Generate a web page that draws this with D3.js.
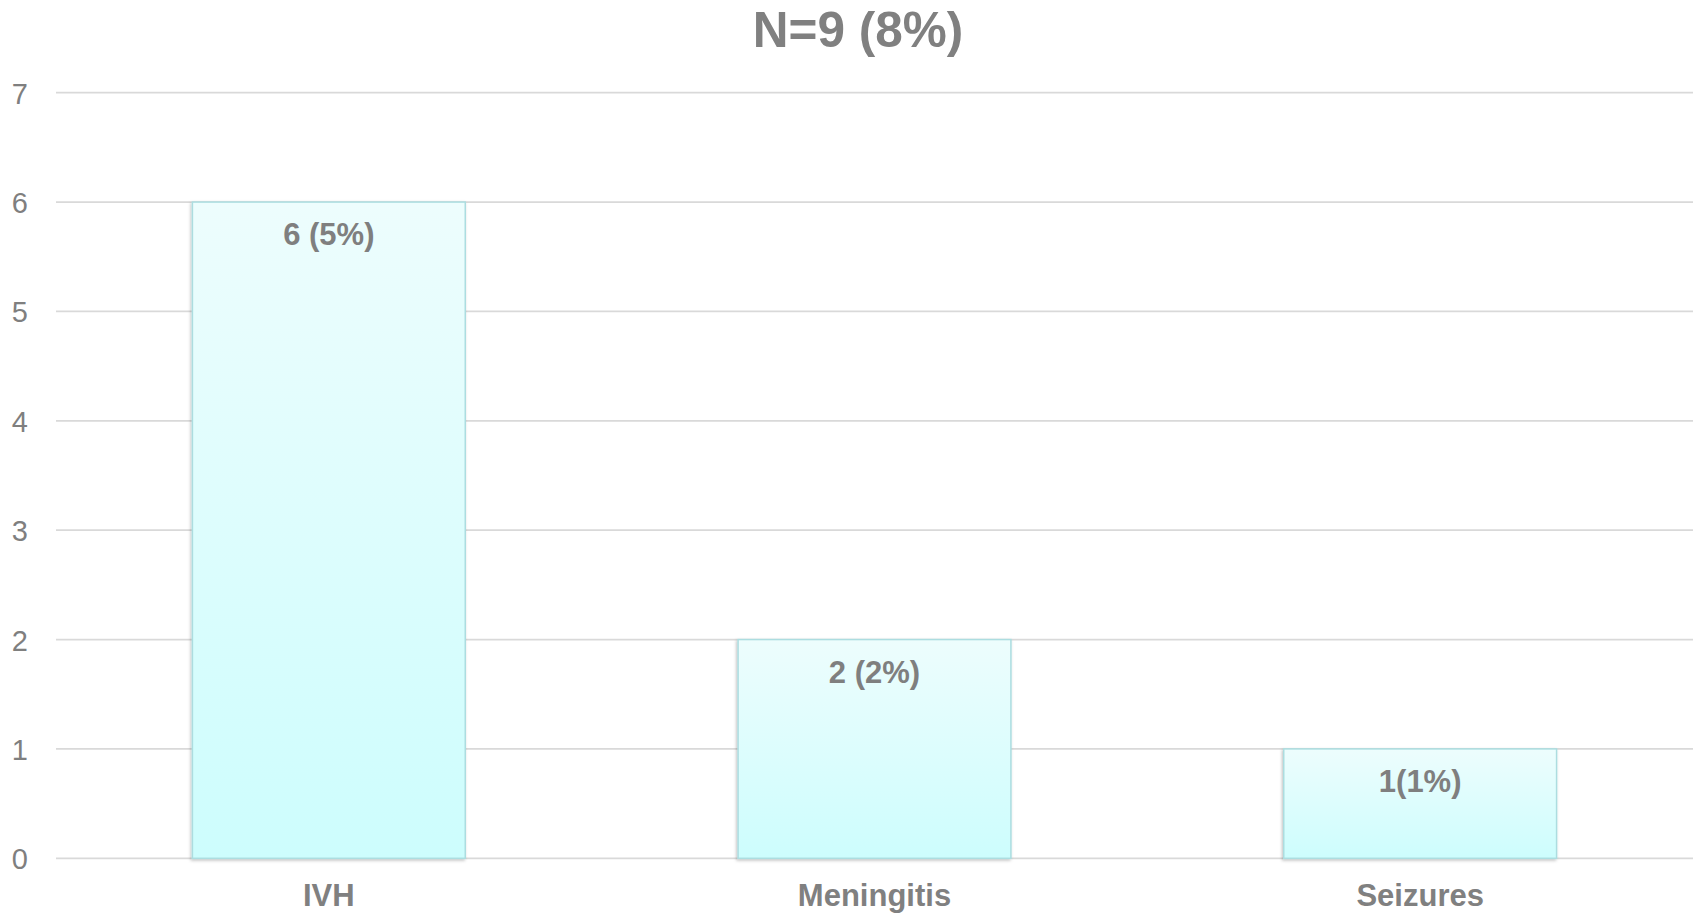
<!DOCTYPE html>
<html>
<head>
<meta charset="utf-8">
<script src="https://cdn.jsdelivr.net/npm/d3@7"></script>
<style>
  html, body { margin: 0; padding: 0; background: #ffffff; }
  svg { display: block; font-family: "Liberation Sans", Arial, sans-serif; }
</style>
</head>
<body>
<svg id="chart" width="1702" height="915"></svg>
<script>
// Chart data
const title = "N=9 (8%)";
const categories = ["IVH", "Meningitis", "Seizures"];
const counts = [6, 2, 1];
const valueLabels = ["6 (5%)", "2 (2%)", "1(1%)"];
const yTicks = [0, 1, 2, 3, 4, 5, 6, 7];

const svg = d3.select("#chart");
const margin = { left: 56, right: 9, top: 92.7, bottom: 56.7 };
const W = 1702, H = 915;

const x = d3.scaleBand()
  .domain(categories)
  .range([margin.left, W - margin.right])
  .paddingInner(0.5)
  .paddingOuter(0.25);

const y = d3.scaleLinear()
  .domain([0, 7])
  .range([H - margin.bottom, margin.top]);

// Bar fill gradient and soft shadow
const defs = svg.append("defs");
const grad = defs.append("linearGradient")
  .attr("id", "barFill").attr("x1", 0).attr("y1", 0).attr("x2", 0).attr("y2", 1);
grad.append("stop").attr("offset", "0%").attr("stop-color", "#edfdfd");
grad.append("stop").attr("offset", "100%").attr("stop-color", "#cdfdfd");

const shadow = defs.append("filter").attr("id", "barShadow")
  .attr("x", "-5%").attr("y", "-5%").attr("width", "110%").attr("height", "110%");
shadow.append("feDropShadow")
  .attr("dx", -1).attr("dy", 1.5).attr("stdDeviation", 1.5)
  .attr("flood-color", "#000").attr("flood-opacity", 0.25);

// Horizontal gridlines
svg.append("g")
  .selectAll("line")
  .data(yTicks)
  .join("line")
  .attr("x1", margin.left)
  .attr("x2", W - margin.right)
  .attr("y1", d => y(d))
  .attr("y2", d => y(d))
  .attr("stroke", "#d9d9d9")
  .attr("stroke-width", 1.8);

// Y axis labels
const yAxis = d3.axisLeft(y).tickValues(yTicks).tickSize(0).tickPadding(0).tickFormat(d3.format("d"));
svg.append("g")
  .attr("transform", `translate(28,0)`)
  .call(yAxis)
  .call(g => g.select(".domain").remove())
  .call(g => g.selectAll("text")
    .attr("font-family", "Liberation Sans, Arial, sans-serif")
    .attr("font-size", 29)
    .attr("fill", "#7f7f7f")
    .attr("dy", "0.36em"));

// Bars
svg.append("g")
  .selectAll("rect")
  .data(categories)
  .join("rect")
  .attr("x", d => x(d))
  .attr("width", x.bandwidth())
  .attr("y", (d, i) => y(counts[i]))
  .attr("height", (d, i) => y(0) - y(counts[i]))
  .attr("fill", "url(#barFill)")
  .attr("stroke", "#acdde0")
  .attr("stroke-width", 1.5)
  .attr("filter", "url(#barShadow)");

// Value labels inside the top of each bar
svg.append("g")
  .selectAll("text")
  .data(categories)
  .join("text")
  .attr("x", d => x(d) + x.bandwidth() / 2)
  .attr("y", (d, i) => y(counts[i]) + 43)
  .attr("text-anchor", "middle")
  .attr("font-size", 31)
  .attr("font-weight", "bold")
  .attr("fill", "#7f7f7f")
  .text((d, i) => valueLabels[i]);

// X axis category labels
const xAxis = d3.axisBottom(x).tickSize(0).tickPadding(0);
svg.append("g")
  .attr("transform", `translate(0,${y(0)})`)
  .call(xAxis)
  .call(g => g.select(".domain").remove())
  .call(g => g.selectAll("text")
    .attr("font-family", "Liberation Sans, Arial, sans-serif")
    .attr("font-size", 31)
    .attr("font-weight", "bold")
    .attr("fill", "#808080")
    .attr("dy", 0)
    .attr("y", 48));

// Title
svg.append("text")
  .attr("x", 858)
  .attr("y", 47)
  .attr("text-anchor", "middle")
  .attr("font-size", 49.5)
  .attr("font-weight", "bold")
  .attr("fill", "#808080")
  .text(title);
</script>
</body>
</html>
